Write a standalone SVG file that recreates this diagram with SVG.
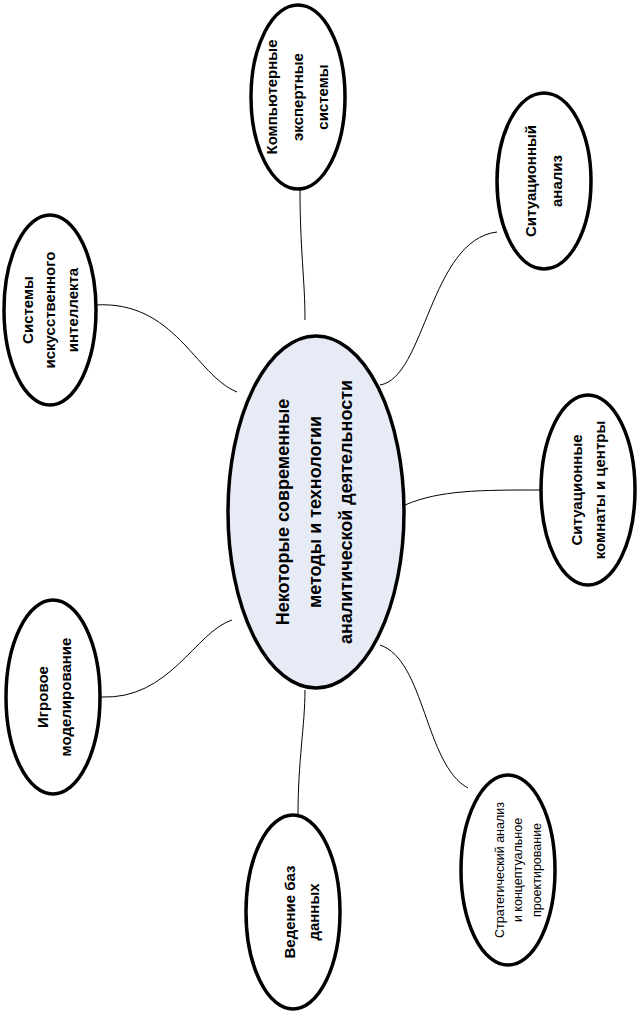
<svg xmlns="http://www.w3.org/2000/svg" width="638" height="1019" viewBox="0 0 638 1019">
<style>
.n{fill:#fff;stroke:#000;stroke-width:3.5}
.c{fill:#e6ebf6;stroke:#000;stroke-width:3.5}
.t{font-family:"Liberation Sans",Arial,sans-serif;font-weight:bold;font-size:15px;text-anchor:middle}
.s{font-family:"Liberation Sans",Arial,sans-serif;font-size:12.5px;text-anchor:middle}
.l{fill:none;stroke:#000;stroke-width:1}
</style>
<rect width="638" height="1019" fill="#fff"/>
<g id="connectors">
<path class="l" d="M300,190 C300,250 305,280 305,320"/>
<path class="l" d="M380,385 C425,378 430,240 497,232"/>
<path class="l" d="M95,305 C175,300 195,375 237,392"/>
<path class="l" d="M405,505 C440,490 480,490 541,490"/>
<path class="l" d="M101,697 C170,700 195,632 232,620"/>
<path class="l" d="M380,645 C425,660 425,765 468,788"/>
<path class="l" d="M298,815 C298,760 305,725 305,690"/>
</g>
<g id="center">
<ellipse class="c" cx="316" cy="512" rx="88" ry="176"/>
<g transform="translate(316,512) rotate(-90)" class="t" style="font-size:18px">
<text x="0" y="-27">Некоторые современные</text>
<text x="0" y="5">методы и технологии</text>
<text x="0" y="36">аналитической деятельности</text>
</g>
</g>
<g id="n1">
<ellipse class="n" cx="298" cy="97" rx="47" ry="92"/>
<g transform="translate(298,97) rotate(-90)" class="t">
<text x="0" y="-21">Компьютерные</text>
<text x="0" y="5">экспертные</text>
<text x="0" y="30">системы</text>
</g>
</g>
<g id="n2">
<ellipse class="n" cx="544" cy="181" rx="47" ry="88"/>
<g transform="translate(544,181) rotate(-90)" class="t">
<text x="0" y="-8">Ситуационный</text>
<text x="0" y="18">анализ</text>
</g>
</g>
<g id="n3">
<ellipse class="n" cx="50" cy="310" rx="46" ry="95"/>
<g transform="translate(50,310) rotate(-90)" class="t">
<text x="0" y="-17">Системы</text>
<text x="0" y="5">искусственного</text>
<text x="0" y="28">интеллекта</text>
</g>
</g>
<g id="n4">
<ellipse class="n" cx="588" cy="490" rx="47" ry="95"/>
<g transform="translate(588,490) rotate(-90)" class="t">
<text x="0" y="-6">Ситуационные</text>
<text x="0" y="17">комнаты и центры</text>
</g>
</g>
<g id="n5">
<ellipse class="n" cx="53" cy="697" rx="47" ry="97"/>
<g transform="translate(53,697) rotate(-90)" class="t">
<text x="0" y="-5">Игровое</text>
<text x="0" y="18">моделирование</text>
</g>
</g>
<g id="n6">
<ellipse class="n" cx="508" cy="870" rx="47" ry="95"/>
<g transform="translate(508,870) rotate(-90)" class="s">
<text x="0" y="-4">Стратегический анализ</text>
<text x="0" y="14">и концептуальное</text>
<text x="0" y="33">проектирование</text>
</g>
</g>
<g id="n7">
<ellipse class="n" cx="293" cy="912" rx="47" ry="97"/>
<g transform="translate(293,912) rotate(-90)" class="t">
<text x="0" y="2">Ведение баз</text>
<text x="0" y="26">данных</text>
</g>
</g>
</svg>
